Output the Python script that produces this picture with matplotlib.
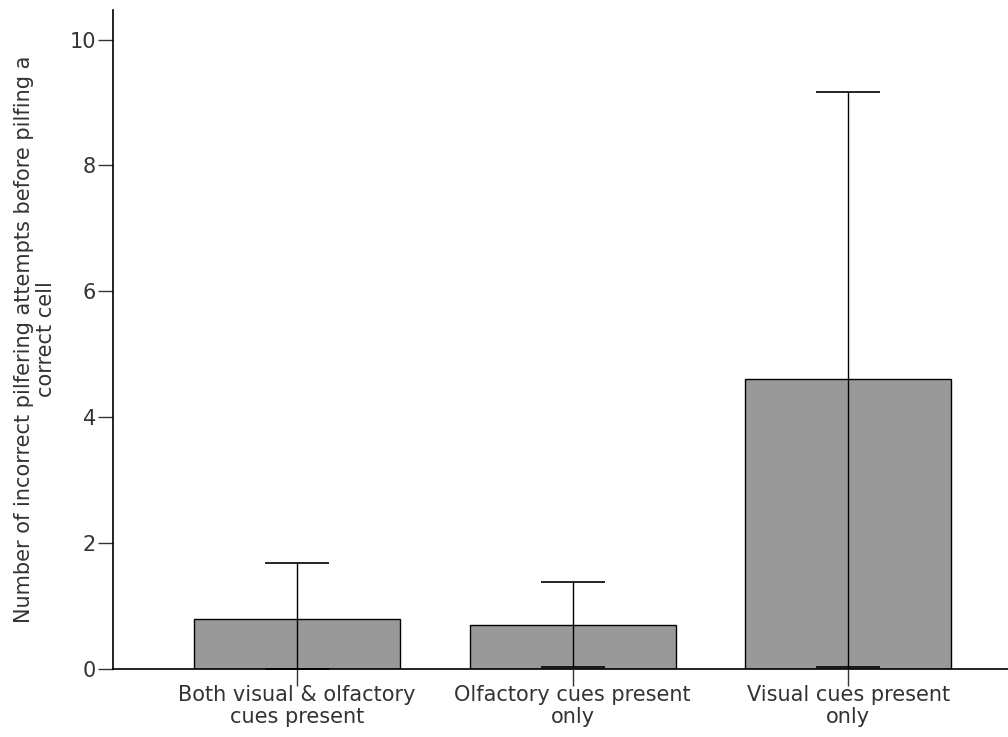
import numpy as np
import matplotlib
matplotlib.use("Agg")
import matplotlib.pyplot as plt

# Mean incorrect pilfering attempts per cue condition, with error bar limits
categorias = ["Both visual & olfactory\ncues present",
              "Olfactory cues present\nonly",
              "Visual cues present\nonly"]
medias = [0.79, 0.70, 4.60]
err_sup = [1.67, 1.37, 9.17]
err_inf = [0.00, 0.02, 0.02]
yticks = [0, 2, 4, 6, 8, 10]

plt.rcParams["font.family"] = ["DejaVu Sans"]
tam = 15

fig = plt.figure(figsize=(10.08, 7.37), dpi=100)
ax = fig.add_axes([0.112, 0.0929, 0.888, 0.8935])

x = np.arange(len(categorias))
medias = np.array(medias)
yerr = np.array([medias - np.array(err_inf), np.array(err_sup) - medias])

ax.bar(x, medias, width=0.748, color="#999999", edgecolor="black", linewidth=1.0, zorder=2)
ax.errorbar(x, medias, yerr=yerr, fmt="none", ecolor="black", elinewidth=1.0,
            capsize=23, capthick=1.2, zorder=3)

ax.set_xlim(-0.668, 2.58)
ax.set_ylim(0, 10.47)
ax.set_yticks(yticks)
ax.set_yticklabels([str(t) for t in yticks])
ax.set_xticks(x)
ax.set_xticklabels(categorias, fontsize=tam, linespacing=1.12)

for s in ["top", "right"]:
    ax.spines[s].set_visible(False)
ax.spines["left"].set_linewidth(1.2)
ax.spines["bottom"].set_linewidth(1.2)
ax.tick_params(axis="y", length=11, width=1.0, labelsize=tam, colors="#333333", pad=1)
ax.tick_params(axis="x", length=12, width=1.0, labelsize=tam, colors="#333333", pad=0)

ax.set_ylabel("Number of incorrect pilfering attempts before pilfing a\ncorrect cell",
              fontsize=tam, color="#333333", linespacing=1.12, labelpad=10)

fig.savefig("out.png", dpi=100)
